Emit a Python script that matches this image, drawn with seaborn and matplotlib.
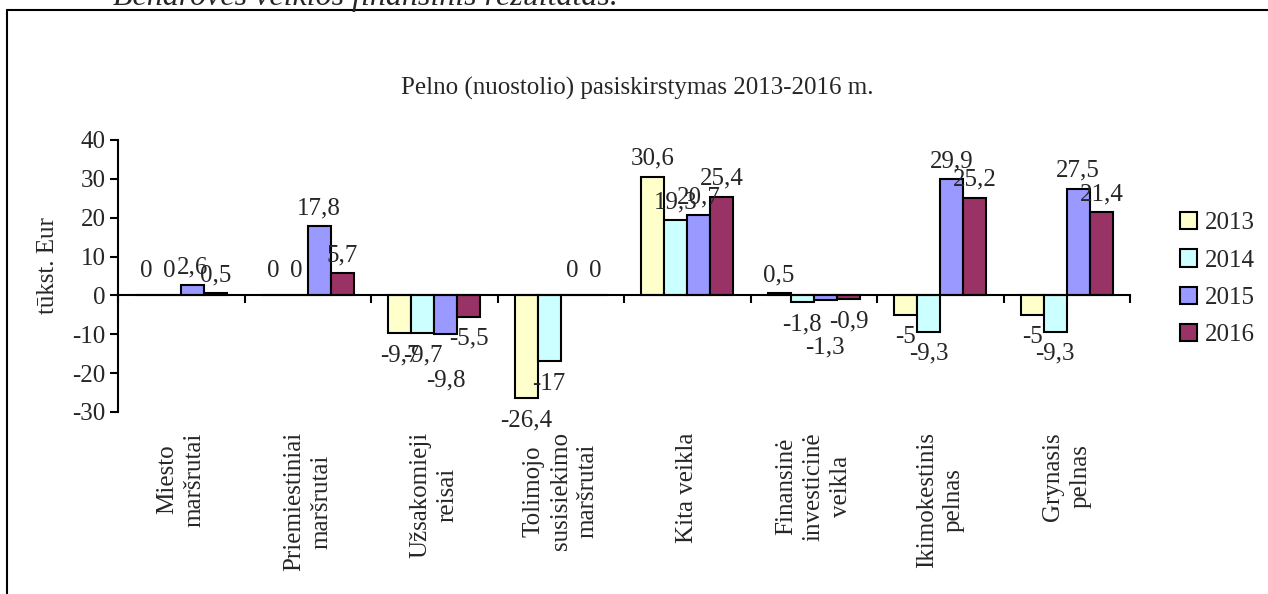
import matplotlib
matplotlib.use("Agg")
import matplotlib.pyplot as plt
from matplotlib.lines import Line2D
from matplotlib.patches import Patch
from matplotlib.transforms import blended_transform_factory
import numpy as np
import pandas as pd
import seaborn as sns

# Duomenys
CATEGORIES = [
    "Miesto\nmaršrutai",
    "Priemiestiniai\nmaršrutai",
    "Užsakomieji\nreisai",
    "Tolimojo\nsusisiekimo\nmaršrutai",
    "Kita veikla",
    "Finansinė\ninvesticinė\nveikla",
    "Ikimokestinis\npelnas",
    "Grynasis\npelnas",
]
YEARS = ["2013", "2014", "2015", "2016"]
V2013 = [0, 0, -9.7, -26.4, 30.6, 0.5, -5, -5]
V2014 = [0, 0, -9.7, -17, 19.3, -1.8, -9.3, -9.3]
V2015 = [2.6, 17.8, -9.8, 0, 20.7, -1.3, 29.9, 27.5]
V2016 = [0.5, 5.7, -5.5, 0, 25.4, -0.9, 25.2, 21.4]
Y_TICKS = [-30, -20, -10, 0, 10, 20, 30, 40]

TITLE = "Pelno (nuostolio) pasiskirstymas 2013-2016 m."
Y_LABEL = "tūkst. Eur"
HEADER = "Bendrovės veiklos finansinis rezultatas."

COLORS = ["#FFFFCC", "#CCFFFF", "#9999FF", "#993366"]
SERIF = ["Liberation Serif", "DejaVu Serif"]
FS = 18
# neigiamos 2015 m. etiketės perkeliamos eilute žemiau (kaip Excel'yje)
LOW_ROW_SERIES = 2

W, H = 1268, 594


def fmt(v):
    return f"{v:g}".replace(".", ",")


def main():
    sns.set_theme(style="white")
    plt.rcParams["font.family"] = SERIF

    values = [V2013, V2014, V2015, V2016]
    df = pd.DataFrame({
        "kategorija": np.tile(CATEGORIES, len(YEARS)),
        "metai": np.repeat(YEARS, len(CATEGORIES)),
        "reiksme": np.concatenate(values),
    })

    fig = plt.figure(figsize=(W / 100, H / 100), dpi=100)
    ax = fig.add_axes([118 / W, 1 - 412 / H, (1130 - 118) / W, 272 / H])

    sns.barplot(
        data=df, x="kategorija", y="reiksme", hue="metai",
        order=CATEGORIES, hue_order=YEARS, palette=COLORS,
        width=0.73, edgecolor="black", linewidth=1.5,
        saturation=1, ax=ax, legend=False,
    )

    ax.set_ylim(-30, 40)
    ax.set_xlim(-0.5, len(CATEGORIES) - 0.5)
    ax.set_yticks(Y_TICKS)
    ax.set_yticklabels([str(t) for t in Y_TICKS], fontsize=FS)
    ax.set_xlabel("")
    ax.set_ylabel(Y_LABEL, fontsize=FS, va="center")
    ax.yaxis.set_label_coords(-0.069, 0.54)

    # Ašys
    for side in ["top", "right"]:
        ax.spines[side].set_visible(False)
    ax.spines["bottom"].set_position(("data", 0))
    for side in ["left", "bottom"]:
        ax.spines[side].set_linewidth(1.5)
        ax.spines[side].set_color("black")
    ax.tick_params(axis="y", direction="out", length=6, width=1.5,
                   color="black", left=True, pad=3)
    ax.set_xticks(np.arange(-0.5, len(CATEGORIES)), minor=True)
    ax.set_xticks(np.arange(len(CATEGORIES)))
    ax.set_xticklabels([])
    ax.tick_params(axis="x", which="major", length=0)
    ax.tick_params(axis="x", which="minor", direction="out", length=6,
                   width=1.5, color="black", bottom=True)

    # Kategorijų pavadinimai
    trans = blended_transform_factory(ax.transData, ax.transAxes)
    for i, cat in enumerate(CATEGORIES):
        ax.text(i, -0.074, cat, transform=trans, rotation=90,
                ha="center", va="top", multialignment="center",
                fontsize=FS, linespacing=1.3)

    # Reikšmių etiketės
    for s, (cont, vals) in enumerate(zip(ax.containers, values)):
        for bar, v in zip(cont, vals):
            x = bar.get_x() + bar.get_width() / 2
            if v > 0:
                off, va = 5, "bottom"
            elif v < 0:
                off, va = -8, "top"
                if s == LOW_ROW_SERIES:
                    off -= 18
            else:
                off, va = 10, "bottom"
            ax.annotate(fmt(v), (x, v), xytext=(0, off),
                        textcoords="offset points", ha="center",
                        va=va, fontsize=FS)

    # Legenda
    handles = [Patch(facecolor=c, edgecolor="black", linewidth=1.5)
               for c in COLORS]
    fig.legend(handles, YEARS, loc="upper left",
               bbox_to_anchor=(1180 / W, 1 - 212 / H),
               frameon=False, fontsize=FS, handlelength=0.68,
               handleheight=0.68, handletextpad=0.3, labelspacing=0.6,
               borderaxespad=0, borderpad=0)

    # Antraštė
    fig.text(637 / W, 1 - 88 / H, TITLE, ha="center", va="center",
             fontsize=FS)
    fig.text(113 / W, 1 - 5 / H, HEADER, ha="left", va="baseline",
             fontsize=23, style="italic")

    # Rėmelis
    fig.add_artist(Line2D([7 / W, 7 / W], [0, 1 - 10 / H],
                          color="black", linewidth=1.5))
    fig.add_artist(Line2D([7 / W, 1], [1 - 10 / H, 1 - 10 / H],
                          color="black", linewidth=1.5))

    fig.savefig("out.png", dpi=100)
    plt.close(fig)


if __name__ == "__main__":
    main()
